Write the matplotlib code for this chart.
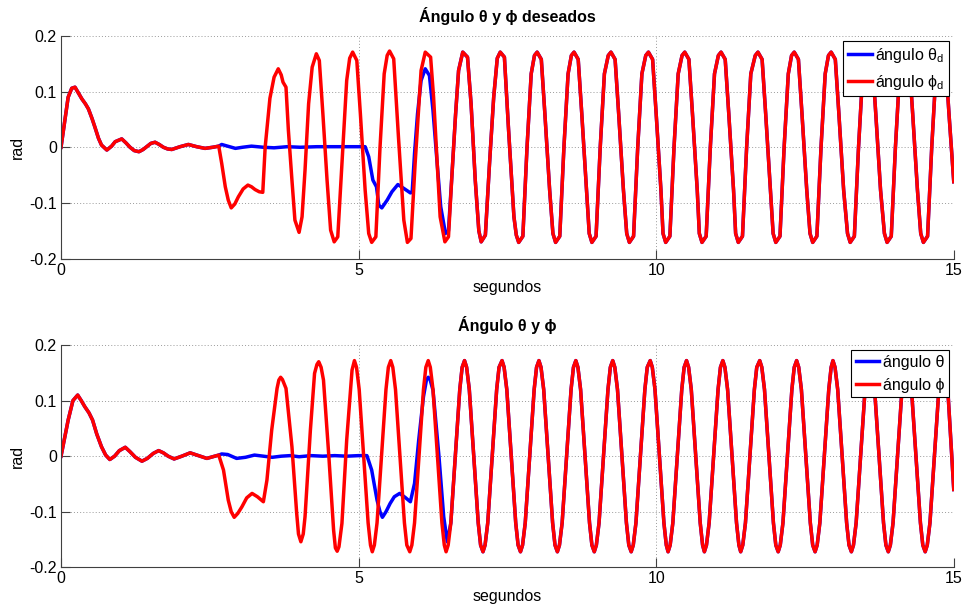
import numpy as np
import matplotlib
matplotlib.use('Agg')
import matplotlib.pyplot as plt
from matplotlib.ticker import FormatStrFormatter

plt.rcParams['font.family'] = ['Liberation Sans', 'DejaVu Sans']
plt.rcParams['axes.unicode_minus'] = False
plt.rcParams['mathtext.fontset'] = 'custom'
plt.rcParams['mathtext.rm'] = 'Liberation Sans'
plt.rcParams['mathtext.it'] = 'Liberation Sans'
plt.rcParams['mathtext.bf'] = 'Liberation Sans:bold'

# --- datos (segundos, rad) ---
# tramo inicial, deseado (común a theta_d y phi_d)
top_settle_t = [0.00, 0.06, 0.12, 0.18, 0.235, 0.29, 0.35, 0.41, 0.46, 0.52,
                0.57, 0.63, 0.68, 0.77, 0.85, 0.91, 1.02, 1.09, 1.16, 1.23,
                1.31, 1.38, 1.44, 1.51, 1.58, 1.65, 1.72, 1.79, 1.86, 2.00,
                2.14, 2.28, 2.42, 2.55, 2.65]
top_settle_y = [0.000, 0.045, 0.090, 0.106, 0.108, 0.098, 0.087, 0.078, 0.069, 0.052,
                0.036, 0.016, 0.004, -0.005, 0.002, 0.010, 0.015, 0.008, 0.000, -0.006,
                -0.008, -0.004, 0.001, 0.007, 0.009, 0.005, 0.000, -0.003, -0.004, 0.001,
                0.005, 0.001, -0.002, 0.000, 0.002]

# phi_d entre 2.7 y 6.5 s
top_phi_mid_t = [2.70, 2.76, 2.81, 2.86, 2.92, 2.98, 3.06, 3.14, 3.20, 3.26,
                 3.33, 3.39, 3.43, 3.51, 3.58, 3.65, 3.70, 3.73, 3.78, 3.82,
                 3.88, 3.93, 4.00, 4.05, 4.10, 4.16, 4.22, 4.29, 4.34, 4.40,
                 4.47, 4.53, 4.59, 4.65, 4.72, 4.80, 4.85, 4.90, 4.97, 5.03,
                 5.11, 5.17, 5.22, 5.29, 5.36, 5.43, 5.48, 5.52, 5.59, 5.67,
                 5.76, 5.82, 5.88, 5.95, 6.05, 6.12, 6.21, 6.26, 6.32, 6.37,
                 6.45, 6.51]
top_phi_mid_y = [-0.029, -0.071, -0.095, -0.109, -0.102, -0.089, -0.075, -0.068, -0.071, -0.076,
                 -0.080, -0.081, 0.000, 0.088, 0.126, 0.141, 0.130, 0.117, 0.108, 0.031,
                 -0.059, -0.131, -0.153, -0.125, -0.041, 0.078, 0.144, 0.168, 0.156, 0.060,
                 -0.059, -0.149, -0.170, -0.161, -0.029, 0.120, 0.160, 0.171, 0.156, 0.060,
                 -0.077, -0.155, -0.171, -0.161, 0.000, 0.132, 0.165, 0.173, 0.159, 0.018,
                 -0.131, -0.171, -0.164, -0.029, 0.138, 0.171, 0.162, 0.090, -0.029, -0.125,
                 -0.170, -0.161]

# theta_d entre 2.7 y 6.5 s
top_theta_mid_t = [2.70, 2.80, 2.93, 3.05, 3.20, 3.40, 3.58, 3.80, 4.02, 4.30,
                   4.70, 5.11, 5.17, 5.24, 5.30, 5.34, 5.39, 5.48, 5.56, 5.66,
                   5.76, 5.87, 5.90, 5.94, 5.99, 6.05, 6.12, 6.19, 6.25, 6.32,
                   6.38, 6.46, 6.51]
top_theta_mid_y = [0.005, 0.002, -0.002, 0.000, 0.002, 0.000, -0.001, 0.001, 0.000, 0.001,
                   0.001, 0.001, -0.017, -0.059, -0.071, -0.104, -0.109, -0.095, -0.080, -0.067,
                   -0.074, -0.082, -0.081, -0.011, 0.060, 0.120, 0.141, 0.129, 0.066, -0.029,
                   -0.107, -0.155, -0.150]

# oscilación común desde 6.57 s
top_osc_t = [6.57, 6.63, 6.68, 6.75, 6.83, 6.89, 6.96, 7.02, 7.06, 7.13, 7.20, 7.27, 7.33,
             7.38, 7.45, 7.52, 7.61, 7.65, 7.69, 7.76, 7.83, 7.90, 7.955,
             8.00, 8.07, 8.13, 8.21, 8.265, 8.31, 8.38, 8.45, 8.52, 8.575,
             8.62, 8.69, 8.75, 8.83, 8.875, 8.92, 8.99, 9.06, 9.13, 9.195,
             9.24, 9.31, 9.37, 9.45, 9.505, 9.55, 9.62, 9.69, 9.76, 9.825,
             9.87, 9.94, 10.00, 10.08, 10.115, 10.16, 10.23, 10.30, 10.37, 10.435,
             10.48, 10.55, 10.61, 10.69, 10.725, 10.77, 10.84, 10.91, 10.98, 11.045,
             11.09, 11.16, 11.22, 11.30, 11.335, 11.38, 11.45, 11.52, 11.59, 11.665,
             11.71, 11.78, 11.84, 11.92, 11.965, 12.01, 12.08, 12.15, 12.22, 12.275,
             12.32, 12.39, 12.45, 12.53, 12.585, 12.63, 12.70, 12.77, 12.84, 12.895,
             12.94, 13.01, 13.07, 13.15, 13.215, 13.26, 13.33, 13.40, 13.47, 13.515,
             13.56, 13.63, 13.69, 13.77, 13.835, 13.88, 13.95, 14.02, 14.09, 14.135,
             14.18, 14.25, 14.31, 14.39, 14.445, 14.49, 14.56, 14.63, 14.70, 14.745,
             14.79, 14.86, 14.92, 15.00]
top_osc_y = [-0.047, 0.060, 0.138, 0.171, 0.162, 0.078, -0.059, -0.150, -0.170, -0.158, -0.029, 0.090, 0.160,
             0.171, 0.162, 0.031, -0.125, -0.158, -0.171, -0.160, 0.000, 0.132, 0.165,
             0.171, 0.158, 0.060, -0.077, -0.155, -0.171, -0.160, 0.000, 0.132, 0.165,
             0.171, 0.158, 0.060, -0.077, -0.155, -0.171, -0.160, 0.000, 0.132, 0.165,
             0.171, 0.158, 0.060, -0.077, -0.155, -0.171, -0.160, 0.000, 0.132, 0.165,
             0.171, 0.158, 0.060, -0.077, -0.155, -0.171, -0.160, 0.000, 0.132, 0.165,
             0.171, 0.158, 0.060, -0.077, -0.155, -0.171, -0.160, 0.000, 0.132, 0.165,
             0.171, 0.158, 0.060, -0.077, -0.155, -0.171, -0.160, 0.000, 0.132, 0.165,
             0.171, 0.158, 0.060, -0.077, -0.155, -0.171, -0.160, 0.000, 0.132, 0.165,
             0.171, 0.158, 0.060, -0.077, -0.155, -0.171, -0.160, 0.000, 0.132, 0.165,
             0.171, 0.158, 0.060, -0.077, -0.155, -0.171, -0.160, 0.000, 0.132, 0.165,
             0.171, 0.158, 0.060, -0.077, -0.155, -0.171, -0.160, 0.000, 0.132, 0.165,
             0.171, 0.158, 0.060, -0.077, -0.155, -0.171, -0.160, 0.000, 0.132, 0.165,
             0.171, 0.158, 0.060, -0.062]

# ángulos reales
bot_settle_t = [0.00, 0.06, 0.12, 0.20, 0.28, 0.34, 0.40, 0.47, 0.53, 0.60,
                0.68, 0.75, 0.82, 0.90, 0.98, 1.08, 1.16, 1.25, 1.36, 1.45,
                1.55, 1.64, 1.72, 1.80, 1.90, 2.03, 2.17, 2.31, 2.45, 2.55,
                2.65]
bot_settle_y = [0.000, 0.032, 0.065, 0.100, 0.110, 0.100, 0.089, 0.078, 0.065, 0.040,
                0.017, 0.002, -0.006, 0.000, 0.010, 0.016, 0.008, -0.002, -0.009, -0.004,
                0.005, 0.010, 0.006, 0.000, -0.005, 0.000, 0.006, 0.001, -0.004, -0.001,
                0.002]

bot_phi_mid_t = [2.73, 2.81, 2.86, 2.91, 2.97, 3.04, 3.12, 3.21, 3.30, 3.40,
                 3.46, 3.54, 3.63, 3.66, 3.69, 3.72, 3.78, 3.88, 3.96, 3.99,
                 4.03, 4.07, 4.10, 4.19, 4.26, 4.30, 4.33, 4.37, 4.41, 4.50,
                 4.58, 4.61, 4.64, 4.67, 4.72, 4.80, 4.89]
bot_phi_mid_y = [-0.025, -0.079, -0.100, -0.110, -0.103, -0.091, -0.075, -0.067, -0.073, -0.082,
                 -0.043, 0.047, 0.122, 0.137, 0.142, 0.138, 0.122, 0.017, -0.103, -0.140,
                 -0.154, -0.140, -0.109, 0.047, 0.149, 0.165, 0.170, 0.160, 0.137, 0.000,
                 -0.133, -0.165, -0.171, -0.163, -0.121, 0.029, 0.155]

bot_theta_mid_t = [2.70, 2.80, 2.95, 3.10, 3.25, 3.40, 3.55, 3.70, 3.85, 4.00,
                   4.20, 4.40, 4.60, 4.80, 5.00, 5.14, 5.22, 5.31, 5.36, 5.40,
                   5.46, 5.53, 5.60, 5.69, 5.78, 5.87, 5.94, 6.01, 6.09, 6.14,
                   6.17, 6.20, 6.25, 6.35, 6.43, 6.49]
bot_theta_mid_y = [0.004, 0.003, -0.004, -0.002, 0.002, 0.000, -0.002, 0.000, 0.001, -0.001,
                   0.001, 0.000, 0.001, 0.000, 0.001, 0.001, -0.025, -0.079, -0.100, -0.110,
                   -0.100, -0.085, -0.073, -0.067, -0.074, -0.082, -0.049, 0.029, 0.107, 0.137,
                   0.142, 0.138, 0.119, 0.000, -0.109, -0.154]

bot_osc_t = [4.93, 4.965, 5.01, 5.085, 5.16, 5.20, 5.23, 5.265, 5.31, 5.385, 5.46, 5.50,
             5.54, 5.575, 5.62, 5.695, 5.77, 5.81, 5.86, 5.895, 5.94, 6.015, 6.09, 6.13,
             6.17, 6.205, 6.25, 6.325, 6.40, 6.44, 6.47, 6.505, 6.55, 6.625, 6.70, 6.74,
             6.78, 6.815, 6.86, 6.935, 7.01, 7.05, 7.09, 7.125, 7.17, 7.245, 7.32, 7.36,
             7.41, 7.445, 7.49, 7.565, 7.64, 7.68, 7.72, 7.755, 7.80, 7.875, 7.95, 7.99,
             8.03, 8.065, 8.11, 8.185, 8.26, 8.30, 8.34, 8.375, 8.42, 8.495, 8.57, 8.61,
             8.65, 8.685, 8.73, 8.805, 8.88, 8.92, 8.96, 8.995, 9.04, 9.115, 9.19, 9.23,
             9.27, 9.305, 9.35, 9.425, 9.50, 9.54, 9.58, 9.615, 9.66, 9.735, 9.81, 9.85,
             9.90, 9.935, 9.98, 10.055, 10.13, 10.17, 10.20, 10.235, 10.28, 10.355, 10.43, 10.47,
             10.51, 10.545, 10.59, 10.665, 10.74, 10.78, 10.81, 10.845, 10.89, 10.965, 11.04, 11.08,
             11.12, 11.155, 11.20, 11.275, 11.35, 11.39, 11.42, 11.455, 11.50, 11.575, 11.65, 11.69,
             11.74, 11.775, 11.82, 11.895, 11.97, 12.01, 12.05, 12.085, 12.13, 12.205, 12.28, 12.32,
             12.36, 12.395, 12.44, 12.515, 12.59, 12.63, 12.67, 12.705, 12.75, 12.825, 12.90, 12.94,
             12.97, 13.005, 13.05, 13.125, 13.20, 13.24, 13.28, 13.315, 13.36, 13.435, 13.51, 13.55,
             13.59, 13.625, 13.67, 13.745, 13.82, 13.86, 13.90, 13.935, 13.98, 14.055, 14.13, 14.17,
             14.21, 14.245, 14.29, 14.365, 14.44, 14.48, 14.52, 14.555, 14.60, 14.675, 14.75, 14.79,
             14.82, 14.855, 14.90, 15.00]
bot_osc_y = [0.172, 0.160, 0.120, 0.000, -0.120, -0.160, -0.172, -0.160, -0.120, 0.000, 0.120, 0.160,
             0.172, 0.160, 0.120, 0.000, -0.120, -0.160, -0.172, -0.160, -0.120, 0.000, 0.120, 0.160,
             0.172, 0.160, 0.120, 0.000, -0.120, -0.160, -0.172, -0.160, -0.120, 0.000, 0.120, 0.160,
             0.172, 0.160, 0.120, 0.000, -0.120, -0.160, -0.172, -0.160, -0.120, 0.000, 0.120, 0.160,
             0.172, 0.160, 0.120, 0.000, -0.120, -0.160, -0.172, -0.160, -0.120, 0.000, 0.120, 0.160,
             0.172, 0.160, 0.120, 0.000, -0.120, -0.160, -0.172, -0.160, -0.120, 0.000, 0.120, 0.160,
             0.172, 0.160, 0.120, 0.000, -0.120, -0.160, -0.172, -0.160, -0.120, 0.000, 0.120, 0.160,
             0.172, 0.160, 0.120, 0.000, -0.120, -0.160, -0.172, -0.160, -0.120, 0.000, 0.120, 0.160,
             0.172, 0.160, 0.120, 0.000, -0.120, -0.160, -0.172, -0.160, -0.120, 0.000, 0.120, 0.160,
             0.172, 0.160, 0.120, 0.000, -0.120, -0.160, -0.172, -0.160, -0.120, 0.000, 0.120, 0.160,
             0.172, 0.160, 0.120, 0.000, -0.120, -0.160, -0.172, -0.160, -0.120, 0.000, 0.120, 0.160,
             0.172, 0.160, 0.120, 0.000, -0.120, -0.160, -0.172, -0.160, -0.120, 0.000, 0.120, 0.160,
             0.172, 0.160, 0.120, 0.000, -0.120, -0.160, -0.172, -0.160, -0.120, 0.000, 0.120, 0.160,
             0.172, 0.160, 0.120, 0.000, -0.120, -0.160, -0.172, -0.160, -0.120, 0.000, 0.120, 0.160,
             0.172, 0.160, 0.120, 0.000, -0.120, -0.160, -0.172, -0.160, -0.120, 0.000, 0.120, 0.160,
             0.172, 0.160, 0.120, 0.000, -0.120, -0.160, -0.172, -0.160, -0.120, 0.000, 0.120, 0.160,
             0.172, 0.160, 0.120, -0.060]

x_ticks = [0, 5, 10, 15]
y_ticks = [-0.2, -0.1, 0, 0.1, 0.2]

# --- armar las series ---
top_phi_t = np.r_[top_settle_t, top_phi_mid_t, top_osc_t]
top_phi_y = np.r_[top_settle_y, top_phi_mid_y, top_osc_y]
top_th_t = np.r_[top_settle_t, top_theta_mid_t, top_osc_t]
top_th_y = np.r_[top_settle_y, top_theta_mid_y, top_osc_y]

bot_osc_t = np.array(bot_osc_t); bot_osc_y = np.array(bot_osc_y)
k = bot_osc_t >= 6.55   # theta se junta con phi aquí
bot_phi_t = np.r_[bot_settle_t, bot_phi_mid_t, bot_osc_t]
bot_phi_y = np.r_[bot_settle_y, bot_phi_mid_y, bot_osc_y]
bot_th_t = np.r_[bot_settle_t, bot_theta_mid_t, bot_osc_t[k]]
bot_th_y = np.r_[bot_settle_y, bot_theta_mid_y, bot_osc_y[k]]

AXC = '#404040'
FS = 11.5


def style(ax, title):
    ax.set_xlim(0, 15)
    ax.set_ylim(-0.2, 0.2)
    ax.set_xticks(x_ticks)
    ax.set_yticks(y_ticks)
    ax.yaxis.set_major_formatter(FormatStrFormatter('%g'))
    for s in ('top', 'right'):
        ax.spines[s].set_visible(False)
    for s in ('left', 'bottom'):
        ax.spines[s].set_color(AXC)
        ax.spines[s].set_linewidth(0.8)
    ax.tick_params(direction='in', length=6.5, width=0.8, color=AXC,
                   labelsize=11.5, pad=3)
    ax.grid(True, linestyle=(0, (1, 2.2)), color='#9a9a9a', lw=0.7)
    ax.set_axisbelow(True)
    ax.set_title(title, fontsize=FS, fontweight='bold', pad=10)
    ax.set_xlabel('segundos', fontsize=FS, labelpad=2)
    ax.set_ylabel('rad', fontsize=FS, labelpad=3)


fig = plt.figure(figsize=(9.67, 6.08), dpi=100)
ax1 = fig.add_axes([0.0631, 0.5748, 0.9232, 0.366])
ax2 = fig.add_axes([0.0631, 0.0669, 0.9232, 0.3656])

lw = 2.5
ax1.plot(top_th_t, top_th_y, color='blue', lw=lw, solid_joinstyle='round',
         label='ángulo θ$_{d}$')
ax1.plot(top_phi_t, top_phi_y, color='red', lw=lw, solid_joinstyle='round',
         label='ángulo ϕ$_{d}$')
style(ax1, 'Ángulo θ y ϕ deseados')

ax2.plot(bot_th_t, bot_th_y, color='blue', lw=lw, solid_joinstyle='round',
         label='ángulo θ')
ax2.plot(bot_phi_t, bot_phi_y, color='red', lw=lw, solid_joinstyle='round',
         label='ángulo ϕ')
style(ax2, 'Ángulo θ y ϕ')

for ax in (ax1, ax2):
    leg = ax.legend(loc='upper right', fontsize=FS, fancybox=False, framealpha=1,
                    edgecolor='black', borderaxespad=0.3, borderpad=0.3,
                    handlelength=1.5, handletextpad=0.2, labelspacing=0.5)
    leg.get_frame().set_linewidth(0.8)

fig.savefig('out.png', dpi=100)
